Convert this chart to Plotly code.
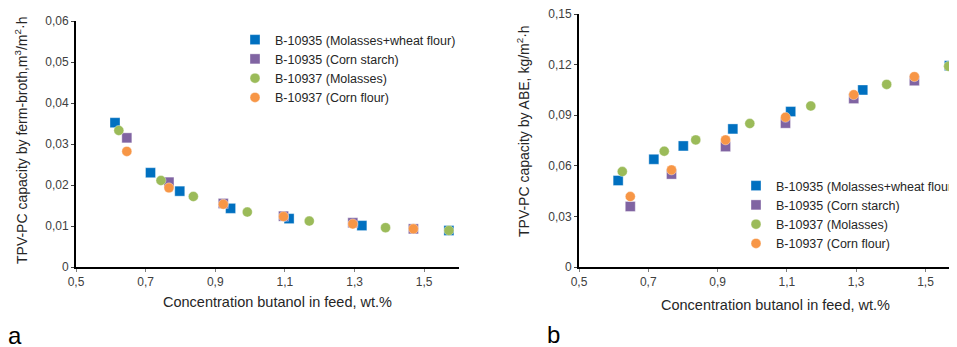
import plotly.graph_objects as go

W, H = 957, 347
OFF = 8  # default page body margin of the html page

# ---------------- data ----------------
names = ["B-10935 (Molasses+wheat flour)", "B-10935 (Corn starch)",
         "B-10937 (Molasses)", "B-10937 (Corn flour)"]
colors = ["#0070C0", "#8064A2", "#9BBB59", "#F79646"]
symbols = ["square", "square", "circle", "circle"]

# Chart a: capacity by ferm-broth
a_x_mw = [0.612, 0.714, 0.798, 0.944, 1.112, 1.321, 1.571]
a_y_mw = [0.0352, 0.0230, 0.0185, 0.0143, 0.0118, 0.0101, 0.0089]
a_x_cs = [0.646, 0.767, 0.923, 1.096, 1.295, 1.469]
a_y_cs = [0.0315, 0.0207, 0.0155, 0.0124, 0.0108, 0.0093]
a_x_mo = [0.623, 0.744, 0.837, 0.992, 1.170, 1.389, 1.571]
a_y_mo = [0.0333, 0.0211, 0.0172, 0.0134, 0.0112, 0.0096, 0.0089]
a_x_cf = [0.646, 0.767, 0.923, 1.096, 1.295, 1.469]
a_y_cf = [0.0282, 0.0193, 0.0153, 0.0123, 0.0105, 0.0093]

# Chart b: capacity by ABE
b_x_mw = [0.613, 0.716, 0.801, 0.944, 1.111, 1.319, 1.569]
b_y_mw = [0.0513, 0.0639, 0.0718, 0.0819, 0.0922, 0.1050, 0.1194]
b_x_cs = [0.648, 0.767, 0.923, 1.096, 1.293, 1.468]
b_y_cs = [0.0359, 0.0551, 0.0714, 0.0853, 0.0999, 0.1105]
b_x_mo = [0.625, 0.746, 0.837, 0.993, 1.169, 1.388, 1.567]
b_y_mo = [0.0566, 0.0687, 0.0754, 0.0851, 0.0955, 0.1083, 0.1190]
b_x_cf = [0.648, 0.767, 0.923, 1.096, 1.293, 1.468]
b_y_cf = [0.0418, 0.0576, 0.0754, 0.0888, 0.1022, 0.1129]

x_tickvals = [0.5, 0.7, 0.9, 1.1, 1.3, 1.5]
x_ticktext = ["0,5", "0,7", "0,9", "1,1", "1,3", "1,5"]
a_y_tickvals = [0, 0.01, 0.02, 0.03, 0.04, 0.05, 0.06]
a_y_ticktext = ["0", "0,01", "0,02", "0,03", "0,04", "0,05", "0,06"]
b_y_tickvals = [0, 0.03, 0.06, 0.09, 0.12, 0.15]
b_y_ticktext = ["0", "0,03", "0,06", "0,09", "0,12", "0,15"]

x_title = "Concentration butanol in feed, wt.%"
a_y_title = "TPV-PC capacity by ferm-broth,m<sup>3</sup>/m<sup>2</sup>·h"
b_y_title = "TPV-PC capacity by ABE, kg/m<sup>2</sup>·h"

series_a = [(a_x_mw, a_y_mw), (a_x_cs, a_y_cs), (a_x_mo, a_y_mo), (a_x_cf, a_y_cf)]
series_b = [(b_x_mw, b_y_mw), (b_x_cs, b_y_cs), (b_x_mo, b_y_mo), (b_x_cf, b_y_cf)]

FONT = "Liberation Sans, Arial, sans-serif"

fig = go.Figure()

for i, (xs, ys) in enumerate(series_a):
    fig.add_trace(go.Scatter(
        x=xs, y=ys, mode="markers", name=names[i], legend="legend",
        marker=dict(symbol=symbols[i], color=colors[i], size=10,
                    line=dict(width=0.6, color="rgba(255,255,255,0.6)")),
        xaxis="x", yaxis="y", cliponaxis=False))

for i, (xs, ys) in enumerate(series_b):
    fig.add_trace(go.Scatter(
        x=xs, y=ys, mode="markers", name=names[i], legend="legend2",
        marker=dict(symbol=symbols[i], color=colors[i], size=10,
                    line=dict(width=0.6, color="rgba(255,255,255,0.6)")),
        xaxis="x2", yaxis="y2", cliponaxis=False))


def px_x(p):
    return (p - OFF) / W


def px_y(p):
    return 1 - (p - OFF) / H


tickfont = dict(family=FONT, size=12, color="#404040")

common_x = dict(tickvals=x_tickvals, ticktext=x_ticktext, showgrid=False,
                zeroline=False, showline=True, linecolor="#000000", linewidth=1.5,
                ticks="outside", ticklen=3, tickcolor="#808080", tickwidth=1,
                tickfont=tickfont, automargin=False, ticklabeloverflow="allow")
common_y = dict(showgrid=False, zeroline=False, showline=True, linecolor="#000000",
                linewidth=2, ticks="outside", ticklen=3, tickcolor="#404040",
                tickwidth=1, tickfont=tickfont, automargin=False,
                ticklabeloverflow="allow")

legfont = dict(family=FONT, size=12.5, color="#262626")


def ann(text, x, y, size=14, angle=0, color="#262626"):
    return dict(text=text, x=px_x(x), y=px_y(y), xref="paper", yref="paper",
                xanchor="center", yanchor="middle", showarrow=False,
                textangle=angle, font=dict(family=FONT, size=size, color=color))


fig.update_layout(
    width=W, height=H,
    margin=dict(l=0, r=0, t=0, b=0),
    paper_bgcolor="white", plot_bgcolor="white",
    font=dict(family=FONT),
    xaxis=dict(common_x, domain=[px_x(76), px_x(459)], range=[0.5, 1.6], anchor="y"),
    yaxis=dict(common_y, domain=[px_y(267), px_y(21)], range=[0, 0.06],
               tickvals=a_y_tickvals, ticktext=a_y_ticktext, anchor="x"),
    xaxis2=dict(common_x, domain=[px_x(579), px_x(957)], range=[0.5, 1.591], anchor="y2"),
    yaxis2=dict(common_y, domain=[px_y(267), px_y(14)], range=[0, 0.15006],
                tickvals=b_y_tickvals, ticktext=b_y_ticktext, anchor="x2"),
    legend=dict(x=px_x(235), y=px_y(25), xanchor="left", yanchor="top",
                bgcolor="rgba(0,0,0,0)", font=legfont,
                itemwidth=30, tracegroupgap=0),
    legend2=dict(x=px_x(736), y=px_y(171), xanchor="left", yanchor="top",
                 bgcolor="rgba(0,0,0,0)", font=legfont,
                 itemwidth=30, tracegroupgap=0),
    annotations=[
        ann(x_title, 277, 302, size=14.5),
        ann(x_title, 775, 305, size=14.5),
        ann(a_y_title, 21, 141, size=14, angle=-90),
        ann(b_y_title, 523, 131, size=14, angle=-90),
        ann("a", 15, 335, size=24, color="#000000"),
        ann("b", 553, 334, size=24, color="#000000"),
    ],
)

fig.write_html("out.html")
